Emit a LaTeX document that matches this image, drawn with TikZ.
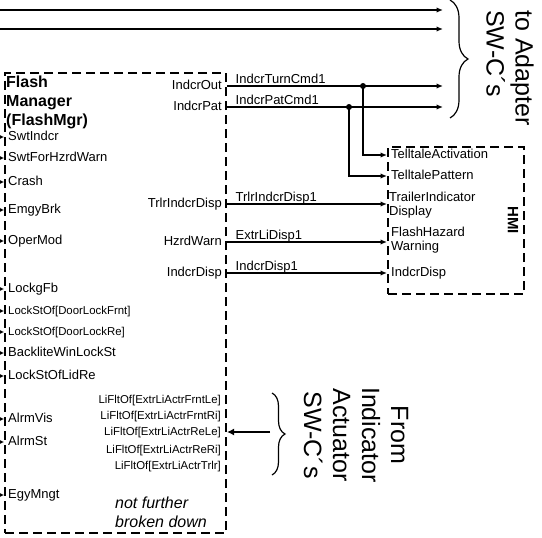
\documentclass[tikz,border=0pt]{standalone}
\usepackage{fontspec}
\setmainfont{Liberation Sans}
\usetikzlibrary{arrows.meta,decorations.pathreplacing}

\tikzset{
  swc/.style={draw, line width=2pt, dash pattern=on 9pt off 5pt, inner sep=0pt},
  port/.style={inner sep=0pt, font=\fontsize{13}{15}\selectfont, text height=9.5pt, text depth=2.5pt},
  smallport/.style={inner sep=0pt, font=\fontsize{11.4}{13}\selectfont, text height=8.5pt, text depth=2.5pt},
  twoline/.style={inner sep=0pt, font=\fontsize{13}{14.5}\selectfont, align=left},
  sig/.style={line width=1.4pt, -{Latex[length=6.5pt,width=5.5pt]}},
  feed/.style={line width=1.2pt, -{Latex[length=4pt,width=4pt]}},
  signame/.style={inner sep=0pt, font=\fontsize{13}{15}\selectfont, anchor=base west, xshift=8pt, yshift=3pt},
  junction/.style={circle, fill, inner sep=0pt, minimum size=6pt},
  swcname/.style={rotate=-90, font=\fontsize{25}{29}\selectfont, inner sep=0pt},
}

\begin{document}
\begin{tikzpicture}[x=1pt, y=-1pt]
\useasboundingbox (0,0) rectangle (542,538);

% software components
\node[swc, minimum width=221pt, minimum height=460pt, anchor=north west] (fm) at (4,72) {};
\node[swc, minimum width=136pt, minimum height=147pt, anchor=north west] (hmi) at (387,146) {};

\node[anchor=north west, align=left, inner sep=0pt, font=\fontsize{16}{19}\selectfont\bfseries] (fmname) at (6,76) {Flash\\Manager\\(FlashMgr)};
\node[rotate=-90, inner sep=0pt, font=\fontsize{15}{17}\selectfont\bfseries] (hminame) at (513,220) {HMI};
\node[anchor=west, align=left, inner sep=0pt, font=\fontsize{16}{19}\selectfont\itshape] (nfbd) at (115,512) {not further\\broken down};

% inputs of FlashMgr
\foreach \id/\y/\sty/\txt in {swtindcr/137/port/SwtIndcr, swthzrd/158/port/SwtForHzrdWarn,
    crash/182/port/Crash, emgybrk/210/port/EmgyBrk, opermod/241/port/OperMod,
    lockgfb/289/port/LockgFb, lockfrnt/311/smallport/LockStOf[DoorLockFrnt],
    lockre/332/smallport/LockStOf[DoorLockRe], backlite/353/port/BackliteWinLockSt,
    lidre/376/port/LockStOfLidRe, alrmvis/419/port/AlrmVis, alrmst/442/port/AlrmSt,
    egymngt/495/port/EgyMngt}
{
  \node[\sty, anchor=west] (\id) at (8,\y) {\txt};
  \draw[feed] (fm.west |- \id) ++(-6,0) -- (fm.west |- \id);
}

% outputs of FlashMgr
\foreach \id/\y/\txt in {indcrout/86/IndcrOut, indcrpat/107/IndcrPat, trlrout/204/TrlrIndcrDisp,
    hzrdwarn/242/HzrdWarn, indcrdisp/273/IndcrDisp}
  \node[port, anchor=east] (\id) at (222,\y) {\txt};

\foreach \id/\y/\txt in {fltfl/400/LiFltOf[ExtrLiActrFrntLe], fltfr/416/LiFltOf[ExtrLiActrFrntRi],
    fltrl/432/LiFltOf[ExtrLiActrReLe], fltrr/450/LiFltOf[ExtrLiActrReRi],
    flttrlr/466/LiFltOf[ExtrLiActrTrlr]}
  \node[smallport, anchor=east] (\id) at (221,\y) {\txt};

% ports of HMI
\node[port, anchor=west] (tact) at (391,155) {TelltaleActivation};
\node[port, anchor=west] (tpat) at (391,176) {TelltalePattern};
\node[twoline, anchor=west] (trlrin) at (389,205) {TrailerIndicator\\Display};
\node[twoline, anchor=west] (flhz) at (391,240) {FlashHazard\\Warning};
\node[port, anchor=west] (hmidisp) at (391,273) {IndcrDisp};

% to adapter
\coordinate (fromleft1) at (-2,10);
\coordinate (fromleft2) at (-2,29);
\coordinate (toadp1) at (443,10);
\coordinate (toadp2) at (443,29);
\coordinate (toadp3) at (443,86);
\coordinate (toadp4) at (443,107);
\draw[sig] (fromleft1) -- (toadp1);
\draw[sig] (fromleft2) -- (toadp2);
\draw[sig] (fm.east |- indcrout) -- node[signame, pos=0] {IndcrTurnCmd1} (toadp3);
\draw[sig] (fm.east |- indcrpat) -- node[signame, pos=0] {IndcrPatCmd1} (toadp4);

\node[junction] (j1) at (363,86) {};
\node[junction] (j2) at (349,107) {};
\draw[sig] (j1.center) |- (hmi.west |- tact);
\draw[sig] (j2.center) |- (hmi.west |- tpat);

% to HMI
\draw[sig] (fm.east |- trlrout) -- node[signame, pos=0] {TrlrIndcrDisp1} (hmi.west |- trlrout);
\draw[sig] (fm.east |- hzrdwarn) -- node[signame, pos=0] {ExtrLiDisp1} (hmi.west |- hzrdwarn);
\draw[sig] (fm.east |- indcrdisp) -- node[signame, pos=0] {IndcrDisp1} (hmi.west |- indcrdisp);

% braces
\coordinate (adptop) at (450,0);
\coordinate (adpbot) at (450,118);
\draw[line width=1.2pt, decorate, decoration={brace, amplitude=18pt}] (adptop) -- (adpbot);
\node[swcname, align=left] (adpname) at (510,68) {to Adapter\\SW-C´s};

\coordinate (acttop) at (272,393);
\coordinate (actbot) at (272,475);
\coordinate (actin) at (270,432);
\draw[line width=1.2pt, decorate, decoration={brace, amplitude=13pt}] (acttop) -- (actbot);
\node[swcname, align=center] (actname) at (356,435) {From\\Indicator\\Actuator\\SW-C´s};
\draw[line width=2.8pt, -{Latex[length=7pt,width=7pt]}] (actin) -- (fm.east |- fltrl);
\end{tikzpicture}
\end{document}
